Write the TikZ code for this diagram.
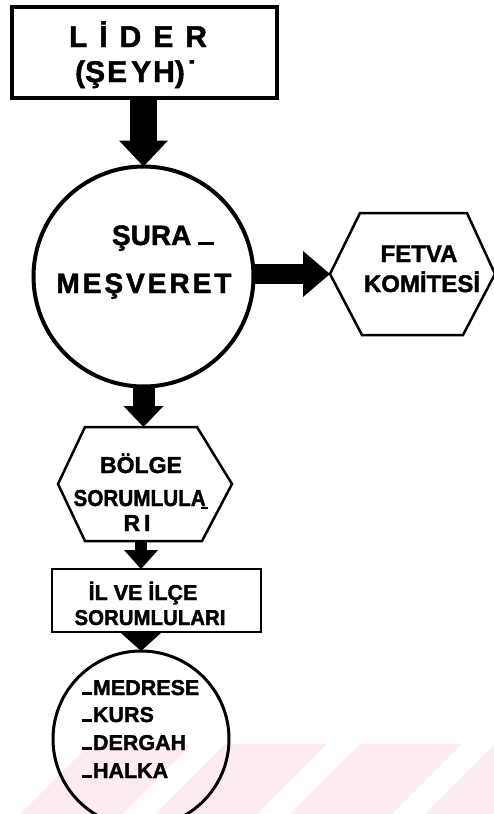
\documentclass[tikz,border=0pt]{standalone}
\usepackage{fontspec}
\setmainfont{Liberation Sans}[BoldFeatures={FakeBold=1.6}]
\usepackage{graphicx}
\usetikzlibrary{arrows.meta}
\definecolor{wmpink}{RGB}{252,236,239}
\begin{document}
\begin{tikzpicture}[x=1pt,y=-1pt,
  txt/.style={anchor=base, inner sep=0pt, outer sep=0pt},
  txtw/.style={anchor=base west, inner sep=0pt, outer sep=0pt},
  fT/.style={font=\bfseries\fontsize{30}{32}\selectfont},
  fA/.style={font=\bfseries\fontsize{28}{30}\selectfont},
  fB/.style={font=\bfseries\fontsize{24}{26}\selectfont},
  fC/.style={font=\bfseries\fontsize{23}{25}\selectfont},
  fD/.style={font=\bfseries\fontsize{21.5}{24}\selectfont},
  hexline/.style={draw=black, line width=2.5pt, line join=miter},
  blockarrow/.style args={#1/#2/#3}{draw=black, line width=#1, -{Triangle[length=#2,width=#3,line width=0pt]}}]
\useasboundingbox (0,0) rectangle (494,814);
% watermark stripes
\foreach \a in {90,225,360,495}
  \fill[wmpink] (\a,744) -- (\a+102,744) -- (\a+32,814) -- (\a-70,814) -- cycle;

% shapes
\node[draw, line width=4pt, minimum width=265pt, minimum height=91pt, inner sep=0pt, outer sep=0pt] (lider) at (144.5,52.5) {};
\node[circle, draw, line width=4pt, minimum size=220pt, inner sep=0pt, outer sep=0pt] (sura) at (143.5,276.5) {};
\node[minimum width=165pt, minimum height=122pt, inner sep=0pt, outer sep=0pt] (fetva) at (412.5,274) {};
\draw[hexline] (fetva.west) -- ([xshift=30pt]fetva.north west) -- ([xshift=-28pt]fetva.north east)
  -- (fetva.east) -- ([xshift=-32pt]fetva.south east) -- ([xshift=32pt]fetva.south west) -- cycle;
\node[minimum width=174pt, minimum height=114pt, inner sep=0pt, outer sep=0pt] (bolge) at (145,484) {};
\draw[hexline] (bolge.west) -- ([xshift=27pt]bolge.north west) -- ([xshift=-35pt]bolge.north east)
  -- (bolge.east) -- ([xshift=-30pt]bolge.south east) -- ([xshift=27pt]bolge.south west) -- cycle;
\node[draw, line width=2.5pt, minimum width=209pt, minimum height=63pt, inner sep=0pt, outer sep=0pt] (il) at (156.5,600.5) {};
\node[circle, draw, line width=3pt, minimum size=176pt, inner sep=0pt, outer sep=0pt] (bot) at (141,739) {};

% arrows
\draw[blockarrow=27pt/26pt/49pt] (lider.south -| sura.north) -- (sura.north);
\draw[blockarrow=20pt/27pt/46pt] (fetva.west -| sura.east) -- (fetva.west);
\draw[blockarrow=22pt/21pt/40pt] (sura.south) -- (bolge.north -| sura.south);
\draw[blockarrow=12pt/19pt/34pt] (bolge.south -| bot.north) -- (il.north -| bot.north);
\draw[blockarrow=10pt/18pt/40pt] (il.south -| bot.north) -- (bot.north);

% texts
\node[txt, fT] (t1) at (138,47) {L\kern12pt İ\kern12pt D\kern12pt E\kern12pt R};
\node[txt, fT] (t2) at (136,82) {(Ş\kern2pt E\kern4pt Y\kern2pt H)\kern2pt˙};
\node[txtw, fA] (t3) at (112,245) {ŞURA\kern7pt\rule{16pt}{3pt}};
\node[txt, fA] (t4) at (144,293) {M\kern3pt E\kern3pt Ş\kern3pt V\kern3pt E\kern3pt R\kern3pt E\kern3pt T};
\node[txt, fB] (t5) at (419,262) {FETVA};
\node[txt, fB] (t6) at (422,292) {KOMİTESİ};
\node[txt, fC] (t7) at (141,473) {BÖLGE};
\node[txt, fC] (t8) at (141,506) {\scalebox{0.9}[1]{SORUMLULA\kern-5pt\raisebox{-3pt}{\rule{8pt}{2.5pt}}}};
\node[txt, fC] (t9) at (137,531) {R\kern4pt I};
\node[txt, fD] (t10) at (143,600) {İL VE İLÇE};
\node[txt, fD] (t11) at (150,625) {\scalebox{0.95}[1]{SORUMLULARI}};
\node[txtw, fD] (t12) at (82,695) {\rule{10pt}{3pt}\kern1pt MEDRESE};
\node[txtw, fD] (t13) at (82,722) {\rule{10pt}{3pt}\kern1pt KURS};
\node[txtw, fD] (t14) at (82,750) {\rule{10pt}{3pt}\kern1pt DERGAH};
\node[txtw, fD] (t15) at (82,778) {\rule{10pt}{3pt}\kern1pt HALKA};
\end{tikzpicture}
\end{document}
